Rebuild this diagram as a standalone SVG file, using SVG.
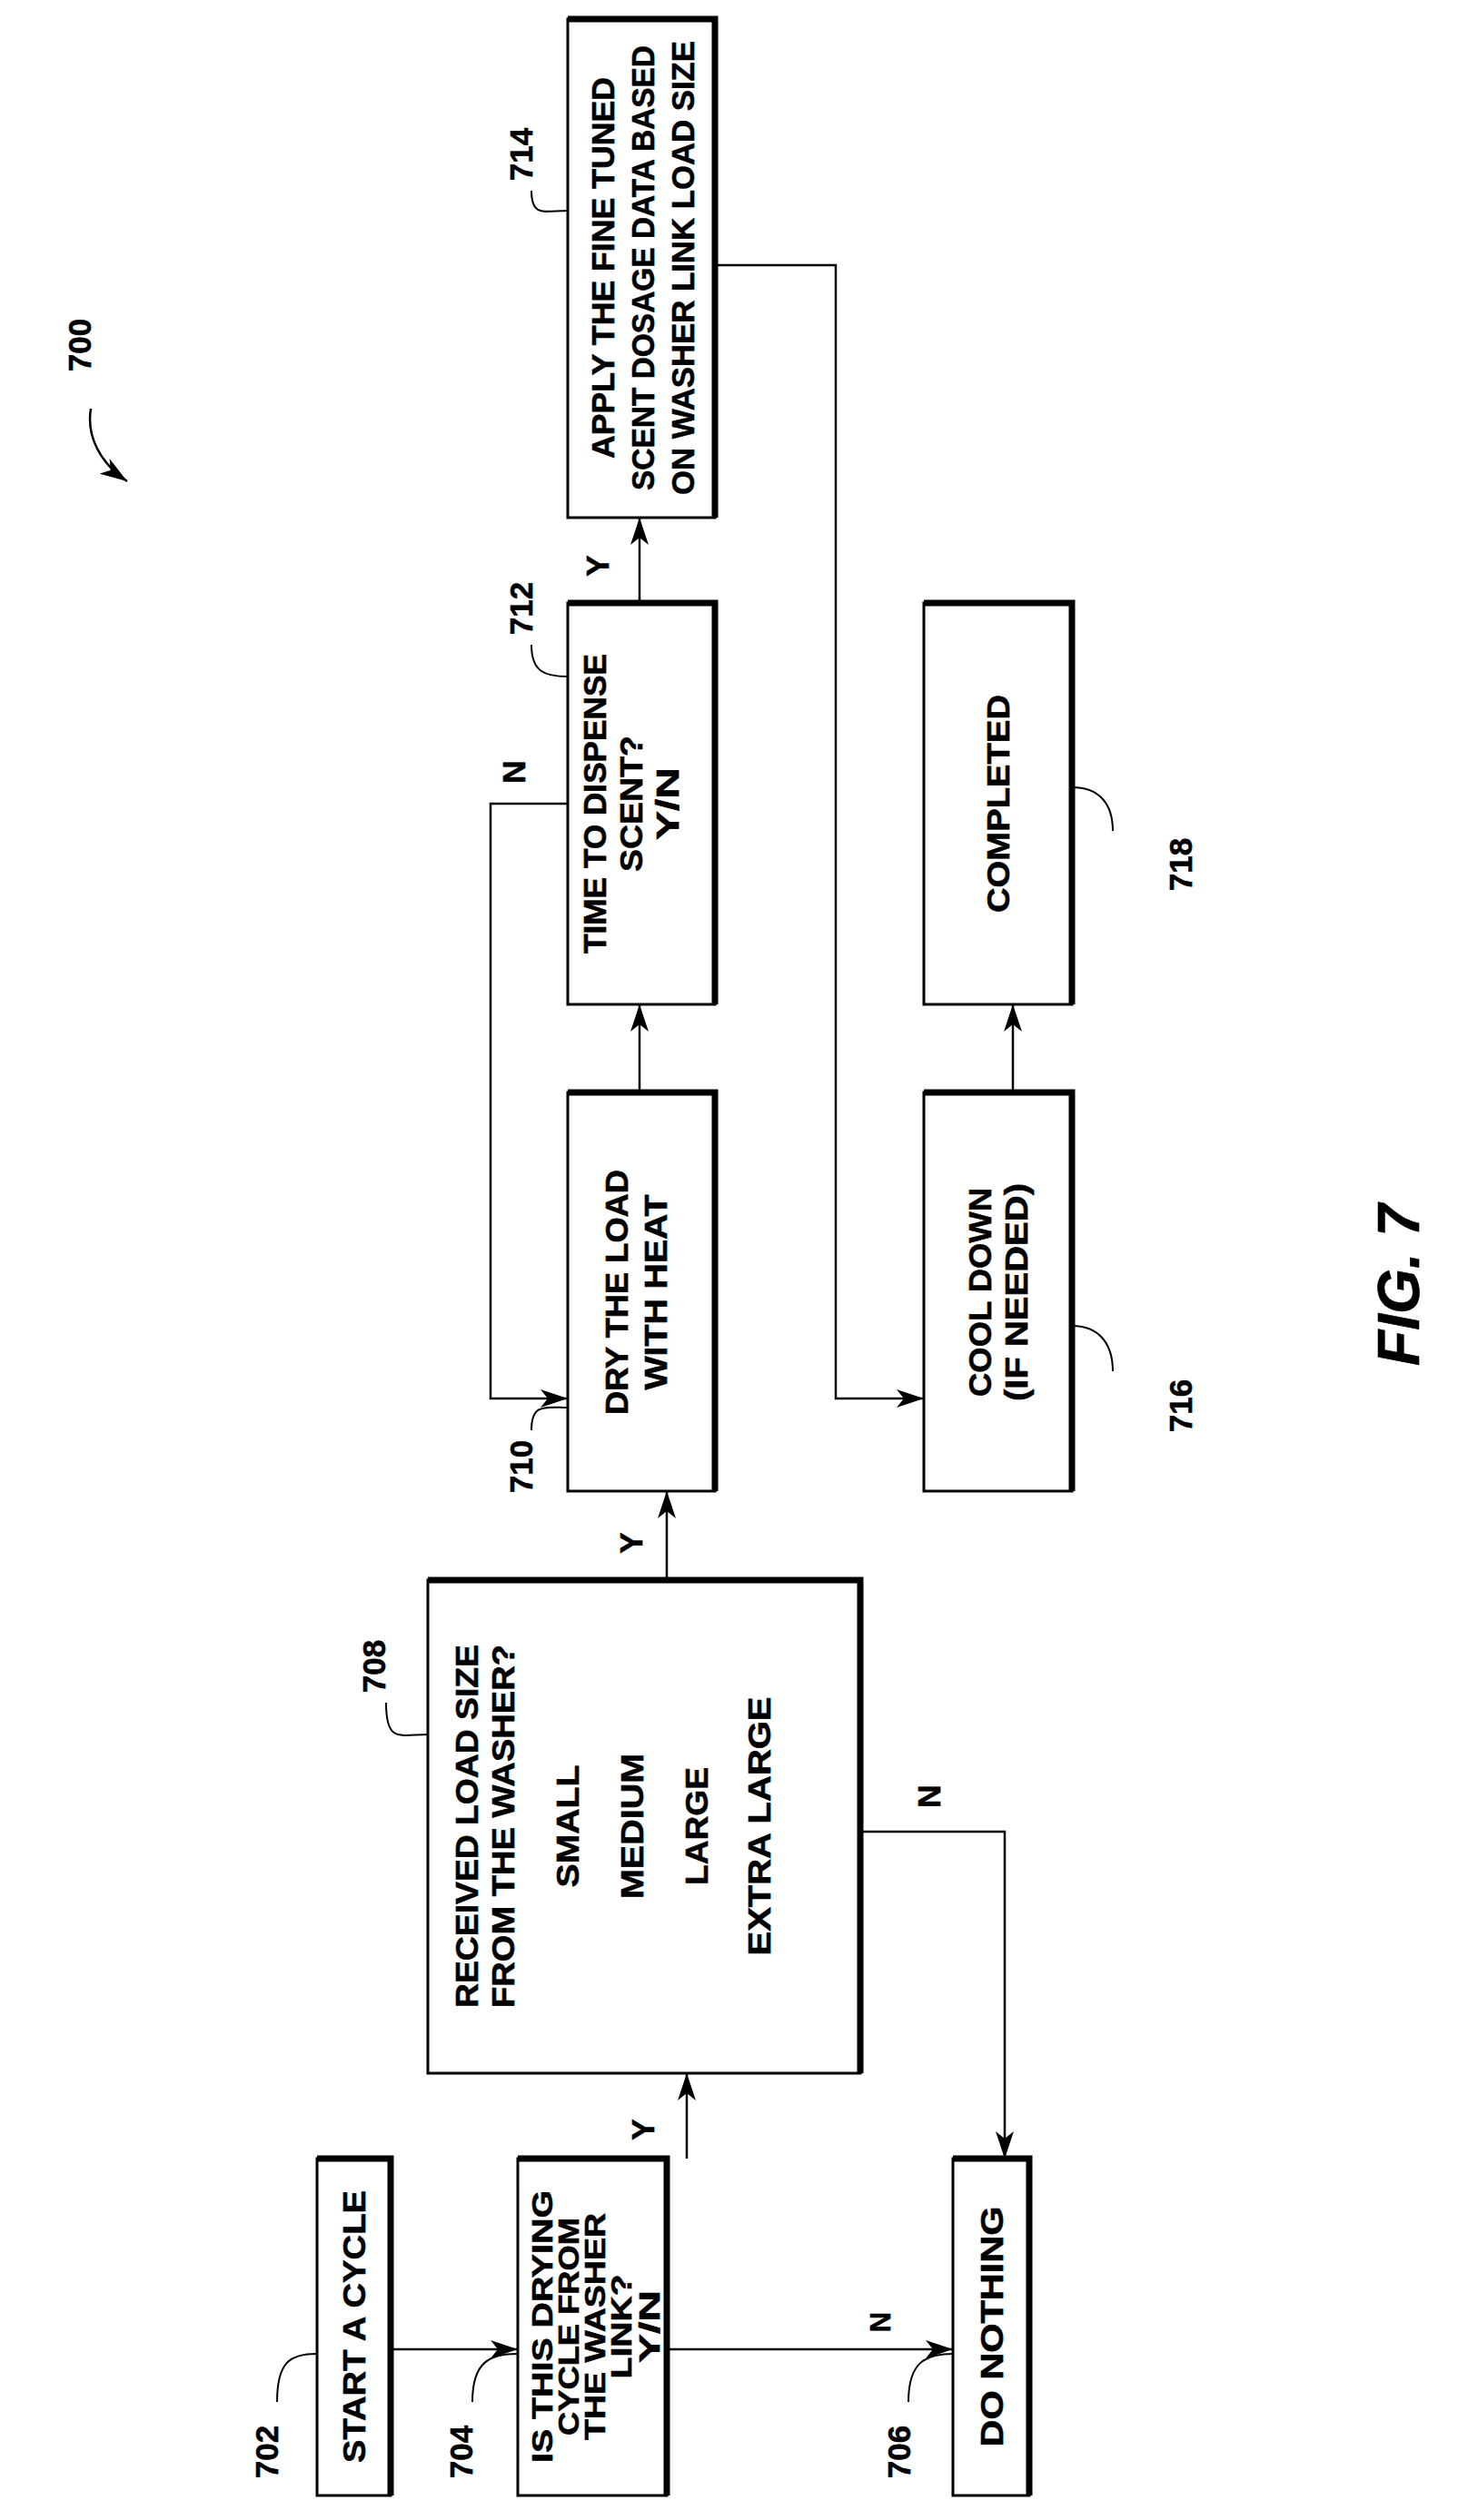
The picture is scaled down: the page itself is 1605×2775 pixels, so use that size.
<svg xmlns="http://www.w3.org/2000/svg" width="1605" height="2775" viewBox="0 0 1605 2775">
<style>
.b{fill:#fff;stroke:#000;stroke-width:3}
.sh{fill:none;stroke:#000;stroke-width:7}
.t{font-family:"Liberation Sans Narrow","Liberation Sans",sans-serif;font-weight:bold;font-size:35px;text-anchor:middle;fill:#000;stroke:#000;stroke-width:0.6}
.s{font-size:31px}
.l{fill:none;stroke:#000;stroke-width:2.5}
.ld{fill:none;stroke:#000;stroke-width:2}
</style>
<defs>
<marker id="A" viewBox="0 0 30 20" refX="30" refY="10" markerWidth="30" markerHeight="20" orient="auto" markerUnits="userSpaceOnUse"><path d="M0,0 L30,10 L0,20 L8,10 z" fill="#000"/></marker>
</defs>
<rect width="1605" height="2775" fill="#fff"/>
<g id="n702"><rect class="b" x="349" y="2377" width="81" height="371"/><path class="sh" d="M349,2377 H430 V2748"/>
<text class="t" transform="translate(402,2562) rotate(-90)" textLength="300" lengthAdjust="spacingAndGlyphs">START A CYCLE</text></g>
<g id="n704"><rect class="b" x="570" y="2377" width="164" height="371"/><path class="sh" d="M570,2377 H734 V2748"/>
<text class="t s" transform="translate(608,2562) rotate(-90)" textLength="300" lengthAdjust="spacingAndGlyphs">IS THIS DRYING</text>
<text class="t s" transform="translate(637,2562) rotate(-90)" textLength="240" lengthAdjust="spacingAndGlyphs">CYCLE FROM</text>
<text class="t s" transform="translate(666,2562) rotate(-90)" textLength="250" lengthAdjust="spacingAndGlyphs">THE WASHER</text>
<text class="t s" transform="translate(695,2562) rotate(-90)" textLength="115" lengthAdjust="spacingAndGlyphs">LINK?</text>
<text class="t s" transform="translate(726,2562) rotate(-90)" textLength="80" lengthAdjust="spacingAndGlyphs">Y/N</text></g>
<g id="n706"><rect class="b" x="1049" y="2377" width="84" height="371"/><path class="sh" d="M1049,2377 H1133 V2748"/>
<text class="t" transform="translate(1104,2562) rotate(-90)" textLength="265" lengthAdjust="spacingAndGlyphs">DO NOTHING</text></g>
<g id="n708"><rect class="b" x="471" y="1740" width="476" height="543"/><path class="sh" d="M471,1740 H947 V2283"/>
<text class="t" transform="translate(526,2011) rotate(-90)" textLength="400" lengthAdjust="spacingAndGlyphs">RECEIVED LOAD SIZE</text>
<text class="t" transform="translate(566,2011) rotate(-90)" textLength="400" lengthAdjust="spacingAndGlyphs">FROM THE WASHER?</text>
<text class="t" transform="translate(637,2011) rotate(-90)" textLength="135" lengthAdjust="spacingAndGlyphs">SMALL</text>
<text class="t" transform="translate(708,2011) rotate(-90)" textLength="160" lengthAdjust="spacingAndGlyphs">MEDIUM</text>
<text class="t" transform="translate(779,2011) rotate(-90)" textLength="130" lengthAdjust="spacingAndGlyphs">LARGE</text>
<text class="t" transform="translate(848,2011) rotate(-90)" textLength="285" lengthAdjust="spacingAndGlyphs">EXTRA LARGE</text></g>
<g id="n710"><rect class="b" x="625" y="1203" width="162" height="439"/><path class="sh" d="M625,1203 H787 V1642"/>
<text class="t" transform="translate(691,1423) rotate(-90)" textLength="270" lengthAdjust="spacingAndGlyphs">DRY THE LOAD</text>
<text class="t" transform="translate(734,1423) rotate(-90)" textLength="215" lengthAdjust="spacingAndGlyphs">WITH HEAT</text></g>
<g id="n712"><rect class="b" x="625" y="664" width="162" height="442"/><path class="sh" d="M625,664 H787 V1106"/>
<text class="t" transform="translate(667,885) rotate(-90)" textLength="330" lengthAdjust="spacingAndGlyphs">TIME TO DISPENSE</text>
<text class="t" transform="translate(707,885) rotate(-90)" textLength="150" lengthAdjust="spacingAndGlyphs">SCENT?</text>
<text class="t" transform="translate(747,885) rotate(-90)" textLength="80" lengthAdjust="spacingAndGlyphs">Y/N</text></g>
<g id="n714"><rect class="b" x="625" y="21" width="162" height="549"/><path class="sh" d="M625,21 H787 V570"/>
<text class="t" transform="translate(676,295) rotate(-90)" textLength="420" lengthAdjust="spacingAndGlyphs">APPLY THE FINE TUNED</text>
<text class="t" transform="translate(720,295) rotate(-90)" textLength="490" lengthAdjust="spacingAndGlyphs">SCENT DOSAGE DATA BASED</text>
<text class="t" transform="translate(764,295) rotate(-90)" textLength="500" lengthAdjust="spacingAndGlyphs">ON WASHER LINK LOAD SIZE</text></g>
<g id="n716"><rect class="b" x="1017" y="1203" width="163" height="439"/><path class="sh" d="M1017,1203 H1180 V1642"/>
<text class="t" transform="translate(1091,1423) rotate(-90)" textLength="230" lengthAdjust="spacingAndGlyphs">COOL DOWN</text>
<text class="t" transform="translate(1131,1423) rotate(-90)" textLength="240" lengthAdjust="spacingAndGlyphs">(IF NEEDED)</text></g>
<g id="n718"><rect class="b" x="1017" y="664" width="163" height="442"/><path class="sh" d="M1017,664 H1180 V1106"/>
<text class="t" transform="translate(1111,885) rotate(-90)" textLength="240" lengthAdjust="spacingAndGlyphs">COMPLETED</text></g>
<g id="connectors">
<path class="l" d="M430,2587 H570" marker-end="url(#A)"/>
<path class="l" d="M734,2587 H1049" marker-end="url(#A)"/>
<path class="l" d="M756,2377 V2283" marker-end="url(#A)"/>
<path class="l" d="M734,1740 V1642" marker-end="url(#A)"/>
<path class="l" d="M947,2017 H1106 V2377" marker-end="url(#A)"/>
<path class="l" d="M704,1203 V1106" marker-end="url(#A)"/>
<path class="l" d="M625,885 H540 V1540 H625" marker-end="url(#A)"/>
<path class="l" d="M704,664 V570" marker-end="url(#A)"/>
<path class="l" d="M787,292 H920 V1540 H1017" marker-end="url(#A)"/>
<path class="l" d="M1115,1203 V1106" marker-end="url(#A)"/>
<text class="t s" transform="translate(980,2557) rotate(-90)">N</text>
<text class="t" transform="translate(720,2345) rotate(-90)">Y</text>
<text class="t" transform="translate(707,1699) rotate(-90)">Y</text>
<text class="t" transform="translate(1035,1978) rotate(-90)">N</text>
<text class="t" transform="translate(578,850) rotate(-90)">N</text>
<text class="t" transform="translate(670,623) rotate(-90)">Y</text>
</g>
<g id="labels">
<path class="ld" d="M305,2645 C305,2600 320,2592 349,2592"/>
<text class="t" transform="translate(306,2700) rotate(-90)">702</text>
<path class="ld" d="M520,2645 C520,2600 540,2592 570,2592"/>
<text class="t" transform="translate(520,2700) rotate(-90)">704</text>
<path class="ld" d="M1000,2645 C1000,2600 1020,2592 1049,2592"/>
<text class="t" transform="translate(1002,2700) rotate(-90)">706</text>
<path class="ld" d="M425,1875 C425,1920 440,1910 471,1910"/>
<text class="t" transform="translate(424,1835) rotate(-90)">708</text>
<path class="ld" d="M585,1575 C585,1545 600,1550 625,1550"/>
<text class="t" transform="translate(586,1615) rotate(-90)">710</text>
<path class="ld" d="M585,710 C585,740 600,745 625,745"/>
<text class="t" transform="translate(586,670) rotate(-90)">712</text>
<path class="ld" d="M585,210 C585,240 600,232 625,232"/>
<text class="t" transform="translate(586,170) rotate(-90)">714</text>
<path class="ld" d="M1180,1460 C1210,1460 1225,1480 1225,1510"/>
<text class="t" transform="translate(1312,1548) rotate(-90)">716</text>
<path class="ld" d="M1180,867 C1210,867 1225,885 1225,915"/>
<text class="t" transform="translate(1312,952) rotate(-90)">718</text>
<text class="t" transform="translate(100,380) rotate(-90)">700</text>
<path class="l" d="M100,450 C95,480 110,510 140,530" marker-end="url(#A)"/>
<text class="t" style="font-size:64px;font-style:italic" transform="translate(1562,1415) rotate(-90)">FIG. 7</text>
</g>
</svg>
